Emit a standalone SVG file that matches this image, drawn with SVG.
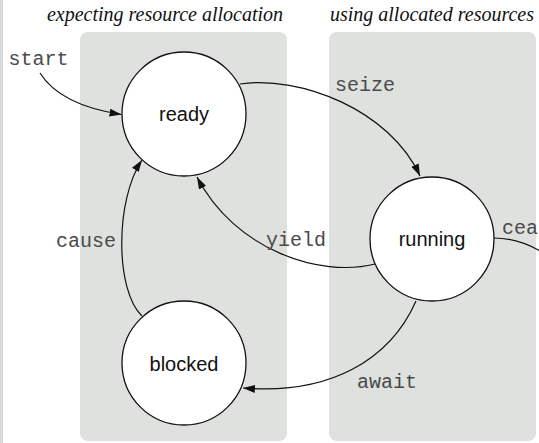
<svg xmlns="http://www.w3.org/2000/svg" width="539" height="443" viewBox="0 0 539 443">
<defs>
<style>
.panel{fill:#dee1de}
.title{font-family:"Liberation Serif",serif;font-style:italic;font-size:20px;fill:#111;text-anchor:middle}
.state{fill:#fff;stroke:#111;stroke-width:1.3}
.name{font-family:"Liberation Sans",Arial,sans-serif;font-size:20px;fill:#111;text-anchor:middle}
.edge{fill:none;stroke:#111;stroke-width:1.2}
.lbl{font-family:"Liberation Mono","Courier New",monospace;font-size:20px;fill:#4a4a4a}
</style>
<marker id="ah" markerUnits="userSpaceOnUse" markerWidth="12" markerHeight="8" refX="12" refY="4" orient="auto">
<path d="M0,0 L12,4 L0,8 z" fill="#111"/>
</marker>
</defs>
<rect x="0" y="0" width="539" height="443" fill="#fff"/>
<rect x="0" y="0" width="3" height="443" fill="#d9d9d9"/>
<g id="panels">
<rect class="panel" x="80" y="32" width="207" height="409" rx="8"/>
<rect class="panel" x="329" y="32" width="207" height="409" rx="8"/>
<text class="title" x="165" y="21">expecting resource allocation</text>
<text class="title" x="432" y="21">using allocated resources</text>
</g>
<g id="connectors">
<path class="edge" d="M40 73 Q60 105 121.5 114.5" marker-end="url(#ah)"/>
<path class="edge" d="M240 84 C300 75 390 110 420 176" marker-end="url(#ah)"/>
<path class="edge" d="M375 264 C320 278 235 250 197 177" marker-end="url(#ah)"/>
<path class="edge" d="M142 316 C115 290 115 200 142 160" marker-end="url(#ah)"/>
<path class="edge" d="M416 301 C390 360 330 395 243 388" marker-end="url(#ah)"/>
<path class="edge" d="M494 238 Q520 238 545 254"/>
<text class="lbl" x="8.5" y="65">start</text>
<text class="lbl" x="335" y="90.5">seize</text>
<text class="lbl" x="266" y="246">yield</text>
<text class="lbl" x="56" y="246.5">cause</text>
<text class="lbl" x="357" y="387.5">await</text>
<text class="lbl" x="502" y="234">cea</text>
</g>
<g id="ready">
<circle class="state" cx="184" cy="114" r="62"/>
<text class="name" x="184" y="121">ready</text>
</g>
<g id="running">
<circle class="state" cx="432" cy="239" r="62"/>
<text class="name" x="432" y="245.5">running</text>
</g>
<g id="blocked">
<circle class="state" cx="184" cy="363" r="62"/>
<text class="name" x="184" y="370.5">blocked</text>
</g>
</svg>
